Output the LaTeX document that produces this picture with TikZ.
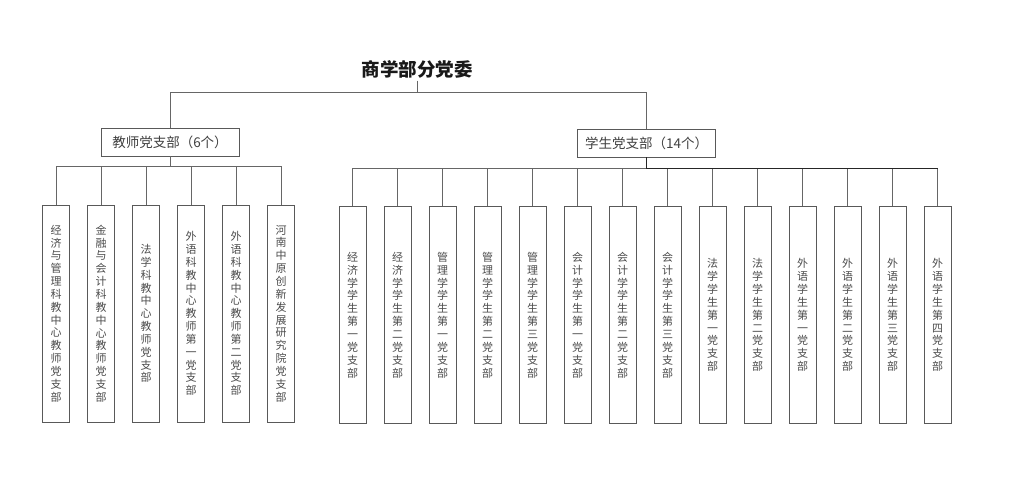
\documentclass[tikz,border=0pt]{standalone}
\usepackage{fontspec}
\setmainfont{Noto Sans CJK SC}
\begin{document}
\begin{tikzpicture}[x=1pt,y=-1pt,
  line/.style={draw=black!60, line width=0.7pt},
  midbox/.style={draw=black!65, line width=0.8pt, fill=white, minimum width=138pt, minimum height=28pt, inner sep=0pt, text=black!75, font=\fontsize{13.5}{15}\selectfont},
  leaf/.style={draw=black!65, line width=0.8pt, fill=white, minimum width=27pt, minimum height=217pt, inner sep=0pt, align=center, text=black!70, font=\fontsize{11}{12.85}\selectfont},
  titlestyle/.style={inner sep=2.5pt, font=\fontsize{18.5}{21}\selectfont\bfseries, text=black!90}]
\useasboundingbox (0,0) rectangle (1024,480);
\fill[white] (0,0) rectangle (1024,480);

\node[titlestyle] (title) at (417,69) {商学部分党委};
\node[midbox] (t) at (170,142) {教师党支部（6个）};
\node[midbox] (s) at (646.5,143) {学生党支部（14个）};

\coordinate (j0) at (417,92);
\coordinate (tb) at (170,166);
\coordinate (sb) at (646.5,168);

% teacher leaves
\node[leaf] (tc1) at (56,313.5) {经\\济\\与\\管\\理\\科\\教\\中\\心\\教\\师\\党\\支\\部};
\node[leaf] (tc2) at (101,313.5) {金\\融\\与\\会\\计\\科\\教\\中\\心\\教\\师\\党\\支\\部};
\node[leaf] (tc3) at (146,313.5) {法\\学\\科\\教\\中\\心\\教\\师\\党\\支\\部};
\node[leaf] (tc4) at (191,313.5) {外\\语\\科\\教\\中\\心\\教\\师\\第\\一\\党\\支\\部};
\node[leaf] (tc5) at (236,313.5) {外\\语\\科\\教\\中\\心\\教\\师\\第\\二\\党\\支\\部};
\node[leaf] (tc6) at (281,313.5) {河\\南\\中\\原\\创\\新\\发\\展\\研\\究\\院\\党\\支\\部};

% student leaves
\node[leaf] (sc1) at (352.5,315) {经\\济\\学\\学\\生\\第\\一\\党\\支\\部};
\node[leaf] (sc2) at (397.5,315) {经\\济\\学\\学\\生\\第\\二\\党\\支\\部};
\node[leaf] (sc3) at (442.5,315) {管\\理\\学\\学\\生\\第\\一\\党\\支\\部};
\node[leaf] (sc4) at (487.5,315) {管\\理\\学\\学\\生\\第\\二\\党\\支\\部};
\node[leaf] (sc5) at (532.5,315) {管\\理\\学\\学\\生\\第\\三\\党\\支\\部};
\node[leaf] (sc6) at (577.5,315) {会\\计\\学\\学\\生\\第\\一\\党\\支\\部};
\node[leaf] (sc7) at (622.5,315) {会\\计\\学\\学\\生\\第\\二\\党\\支\\部};
\node[leaf] (sc8) at (667.5,315) {会\\计\\学\\学\\生\\第\\三\\党\\支\\部};
\node[leaf] (sc9) at (712.5,315) {法\\学\\学\\生\\第\\一\\党\\支\\部};
\node[leaf] (sc10) at (757.5,315) {法\\学\\学\\生\\第\\二\\党\\支\\部};
\node[leaf] (sc11) at (802.5,315) {外\\语\\学\\生\\第\\一\\党\\支\\部};
\node[leaf] (sc12) at (847.5,315) {外\\语\\学\\生\\第\\二\\党\\支\\部};
\node[leaf] (sc13) at (892.5,315) {外\\语\\学\\生\\第\\三\\党\\支\\部};
\node[leaf] (sc14) at (937.5,315) {外\\语\\学\\生\\第\\四\\党\\支\\部};

% connectors
\draw[line] (title.south) -- (j0);
\draw[line] (j0) -| (t.north);
\draw[line] (j0) -| (s.north);
\draw[line] (t.south) -- (tb);
\foreach \i in {1,...,6} { \draw[line] (tb) -| (tc\i.north); }
\foreach \i in {1,...,14} { \draw[line] (sb) -| (sc\i.north); }
\draw[draw=black!85, line width=1pt] (s.south) -- (sb) -- (sb -| sc14.north);
\end{tikzpicture}
\end{document}
